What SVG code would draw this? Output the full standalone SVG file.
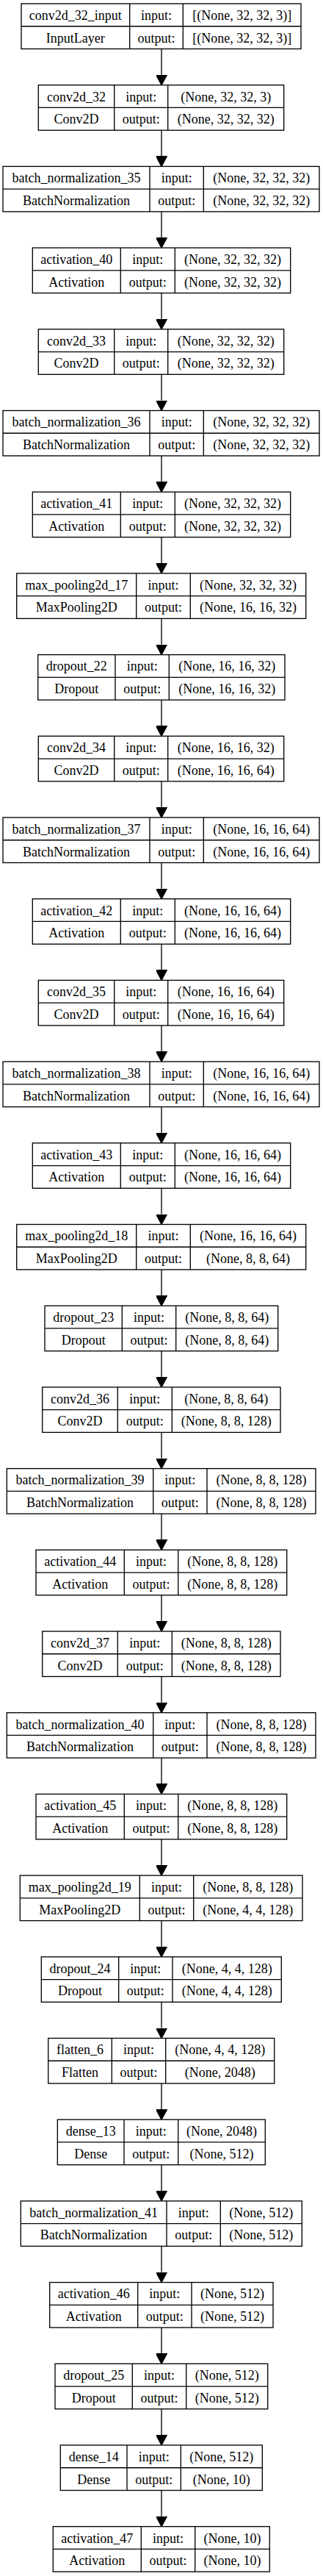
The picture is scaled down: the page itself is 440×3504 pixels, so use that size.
<svg xmlns="http://www.w3.org/2000/svg" width="440" height="3504" viewBox="0 0 440 3504">
<style>
.b{fill:none;stroke:#000;stroke-width:1.33}
.t{font-family:"Liberation Serif","Times New Roman",serif;font-size:18px;text-anchor:middle;fill:#000}
.e{fill:none;stroke:#000;stroke-width:1.33}
</style>
<defs>
<marker id="ah" markerUnits="userSpaceOnUse" viewBox="0 0 14 15" refX="0" refY="7.5" markerWidth="14" markerHeight="15" orient="auto">
<path d="M0,0 L14,7.5 L0,15 z" fill="#000" stroke="#000" stroke-width="1.33"/>
</marker>
</defs>
<rect width="440" height="3504" fill="#fff"/>
<g id="connectors">
<path class="e" marker-end="url(#ah)" d="M220,66.5V101.7"/>
<path class="e" marker-end="url(#ah)" d="M220,177.2V212.4"/>
<path class="e" marker-end="url(#ah)" d="M220,287.9V323.1"/>
<path class="e" marker-end="url(#ah)" d="M220,398.6V433.8"/>
<path class="e" marker-end="url(#ah)" d="M220,509.3V544.5"/>
<path class="e" marker-end="url(#ah)" d="M220,620V655.2"/>
<path class="e" marker-end="url(#ah)" d="M220,730.7V765.9"/>
<path class="e" marker-end="url(#ah)" d="M220,841.4V876.6"/>
<path class="e" marker-end="url(#ah)" d="M220,952.1V987.3"/>
<path class="e" marker-end="url(#ah)" d="M220,1062.8V1098"/>
<path class="e" marker-end="url(#ah)" d="M220,1173.5V1208.7"/>
<path class="e" marker-end="url(#ah)" d="M220,1284.2V1319.4"/>
<path class="e" marker-end="url(#ah)" d="M220,1394.9V1430.1"/>
<path class="e" marker-end="url(#ah)" d="M220,1505.6V1540.8"/>
<path class="e" marker-end="url(#ah)" d="M220,1616.3V1651.5"/>
<path class="e" marker-end="url(#ah)" d="M220,1727V1762.2"/>
<path class="e" marker-end="url(#ah)" d="M220,1837.7V1872.9"/>
<path class="e" marker-end="url(#ah)" d="M220,1948.4V1983.6"/>
<path class="e" marker-end="url(#ah)" d="M220,2059.1V2094.3"/>
<path class="e" marker-end="url(#ah)" d="M220,2169.8V2205"/>
<path class="e" marker-end="url(#ah)" d="M220,2280.5V2315.7"/>
<path class="e" marker-end="url(#ah)" d="M220,2391.2V2426.4"/>
<path class="e" marker-end="url(#ah)" d="M220,2501.9V2537.1"/>
<path class="e" marker-end="url(#ah)" d="M220,2612.6V2647.8"/>
<path class="e" marker-end="url(#ah)" d="M220,2723.3V2758.5"/>
<path class="e" marker-end="url(#ah)" d="M220,2834V2869.2"/>
<path class="e" marker-end="url(#ah)" d="M220,2944.7V2979.9"/>
<path class="e" marker-end="url(#ah)" d="M220,3055.4V3090.6"/>
<path class="e" marker-end="url(#ah)" d="M220,3166.1V3201.3"/>
<path class="e" marker-end="url(#ah)" d="M220,3276.8V3312"/>
<path class="e" marker-end="url(#ah)" d="M220,3387.5V3422.7"/>
</g>

<g id="conv2d_32_input" transform="translate(0,5)">
<rect class="b" x="29" y="0" width="381" height="61.5"/>
<path class="b" d="M29,30.75H410M176.7,0V61.5M249.3,0V61.5"/>
<text class="t" x="102.85" y="21.9">conv2d_32_input</text><text class="t" x="213" y="21.9">input:</text><text class="t" x="329.65" y="21.9">[(None, 32, 32, 3)]</text>
<text class="t" x="102.85" y="52.6">InputLayer</text><text class="t" x="213" y="52.6">output:</text><text class="t" x="329.65" y="52.6">[(None, 32, 32, 3)]</text>
</g>

<g id="conv2d_32" transform="translate(0,115.7)">
<rect class="b" x="52.3" y="0" width="334.4" height="61.5"/>
<path class="b" d="M52.3,30.75H386.7M155.7,0V61.5M228.7,0V61.5"/>
<text class="t" x="104" y="21.9">conv2d_32</text><text class="t" x="192.2" y="21.9">input:</text><text class="t" x="307.7" y="21.9">(None, 32, 32, 3)</text>
<text class="t" x="104" y="52.6">Conv2D</text><text class="t" x="192.2" y="52.6">output:</text><text class="t" x="307.7" y="52.6">(None, 32, 32, 32)</text>
</g>

<g id="batch_normalization_35" transform="translate(0,226.4)">
<rect class="b" x="4" y="0" width="431" height="61.5"/>
<path class="b" d="M4,30.75H435M204,0V61.5M277.3,0V61.5"/>
<text class="t" x="104" y="21.9">batch_normalization_35</text><text class="t" x="240.65" y="21.9">input:</text><text class="t" x="356.15" y="21.9">(None, 32, 32, 32)</text>
<text class="t" x="104" y="52.6">BatchNormalization</text><text class="t" x="240.65" y="52.6">output:</text><text class="t" x="356.15" y="52.6">(None, 32, 32, 32)</text>
</g>

<g id="activation_40" transform="translate(0,337.1)">
<rect class="b" x="44.3" y="0" width="351.4" height="61.5"/>
<path class="b" d="M44.3,30.75H395.7M164.3,0V61.5M238.3,0V61.5"/>
<text class="t" x="104.3" y="21.9">activation_40</text><text class="t" x="201.3" y="21.9">input:</text><text class="t" x="317" y="21.9">(None, 32, 32, 32)</text>
<text class="t" x="104.3" y="52.6">Activation</text><text class="t" x="201.3" y="52.6">output:</text><text class="t" x="317" y="52.6">(None, 32, 32, 32)</text>
</g>

<g id="conv2d_33" transform="translate(0,447.8)">
<rect class="b" x="52.3" y="0" width="334.4" height="61.5"/>
<path class="b" d="M52.3,30.75H386.7M155.7,0V61.5M228.7,0V61.5"/>
<text class="t" x="104" y="21.9">conv2d_33</text><text class="t" x="192.2" y="21.9">input:</text><text class="t" x="307.7" y="21.9">(None, 32, 32, 32)</text>
<text class="t" x="104" y="52.6">Conv2D</text><text class="t" x="192.2" y="52.6">output:</text><text class="t" x="307.7" y="52.6">(None, 32, 32, 32)</text>
</g>

<g id="batch_normalization_36" transform="translate(0,558.5)">
<rect class="b" x="4" y="0" width="431" height="61.5"/>
<path class="b" d="M4,30.75H435M204,0V61.5M277.3,0V61.5"/>
<text class="t" x="104" y="21.9">batch_normalization_36</text><text class="t" x="240.65" y="21.9">input:</text><text class="t" x="356.15" y="21.9">(None, 32, 32, 32)</text>
<text class="t" x="104" y="52.6">BatchNormalization</text><text class="t" x="240.65" y="52.6">output:</text><text class="t" x="356.15" y="52.6">(None, 32, 32, 32)</text>
</g>

<g id="activation_41" transform="translate(0,669.2)">
<rect class="b" x="44.3" y="0" width="351.4" height="61.5"/>
<path class="b" d="M44.3,30.75H395.7M164.3,0V61.5M238.3,0V61.5"/>
<text class="t" x="104.3" y="21.9">activation_41</text><text class="t" x="201.3" y="21.9">input:</text><text class="t" x="317" y="21.9">(None, 32, 32, 32)</text>
<text class="t" x="104.3" y="52.6">Activation</text><text class="t" x="201.3" y="52.6">output:</text><text class="t" x="317" y="52.6">(None, 32, 32, 32)</text>
</g>

<g id="max_pooling2d_17" transform="translate(0,779.9)">
<rect class="b" x="22.7" y="0" width="394" height="61.5"/>
<path class="b" d="M22.7,30.75H416.7M185.7,0V61.5M259.3,0V61.5"/>
<text class="t" x="104.2" y="21.9">max_pooling2d_17</text><text class="t" x="222.5" y="21.9">input:</text><text class="t" x="338" y="21.9">(None, 32, 32, 32)</text>
<text class="t" x="104.2" y="52.6">MaxPooling2D</text><text class="t" x="222.5" y="52.6">output:</text><text class="t" x="338" y="52.6">(None, 16, 16, 32)</text>
</g>

<g id="dropout_22" transform="translate(0,890.6)">
<rect class="b" x="51.7" y="0" width="336.3" height="61.5"/>
<path class="b" d="M51.7,30.75H388M157,0V61.5M230.3,0V61.5"/>
<text class="t" x="104.35" y="21.9">dropout_22</text><text class="t" x="193.65" y="21.9">input:</text><text class="t" x="309.15" y="21.9">(None, 16, 16, 32)</text>
<text class="t" x="104.35" y="52.6">Dropout</text><text class="t" x="193.65" y="52.6">output:</text><text class="t" x="309.15" y="52.6">(None, 16, 16, 32)</text>
</g>

<g id="conv2d_34" transform="translate(0,1001.3)">
<rect class="b" x="52.3" y="0" width="334.4" height="61.5"/>
<path class="b" d="M52.3,30.75H386.7M155.7,0V61.5M228.7,0V61.5"/>
<text class="t" x="104" y="21.9">conv2d_34</text><text class="t" x="192.2" y="21.9">input:</text><text class="t" x="307.7" y="21.9">(None, 16, 16, 32)</text>
<text class="t" x="104" y="52.6">Conv2D</text><text class="t" x="192.2" y="52.6">output:</text><text class="t" x="307.7" y="52.6">(None, 16, 16, 64)</text>
</g>

<g id="batch_normalization_37" transform="translate(0,1112)">
<rect class="b" x="4" y="0" width="431" height="61.5"/>
<path class="b" d="M4,30.75H435M204,0V61.5M277.3,0V61.5"/>
<text class="t" x="104" y="21.9">batch_normalization_37</text><text class="t" x="240.65" y="21.9">input:</text><text class="t" x="356.15" y="21.9">(None, 16, 16, 64)</text>
<text class="t" x="104" y="52.6">BatchNormalization</text><text class="t" x="240.65" y="52.6">output:</text><text class="t" x="356.15" y="52.6">(None, 16, 16, 64)</text>
</g>

<g id="activation_42" transform="translate(0,1222.7)">
<rect class="b" x="44.3" y="0" width="351.4" height="61.5"/>
<path class="b" d="M44.3,30.75H395.7M164.3,0V61.5M238.3,0V61.5"/>
<text class="t" x="104.3" y="21.9">activation_42</text><text class="t" x="201.3" y="21.9">input:</text><text class="t" x="317" y="21.9">(None, 16, 16, 64)</text>
<text class="t" x="104.3" y="52.6">Activation</text><text class="t" x="201.3" y="52.6">output:</text><text class="t" x="317" y="52.6">(None, 16, 16, 64)</text>
</g>

<g id="conv2d_35" transform="translate(0,1333.4)">
<rect class="b" x="52.3" y="0" width="334.4" height="61.5"/>
<path class="b" d="M52.3,30.75H386.7M155.7,0V61.5M228.7,0V61.5"/>
<text class="t" x="104" y="21.9">conv2d_35</text><text class="t" x="192.2" y="21.9">input:</text><text class="t" x="307.7" y="21.9">(None, 16, 16, 64)</text>
<text class="t" x="104" y="52.6">Conv2D</text><text class="t" x="192.2" y="52.6">output:</text><text class="t" x="307.7" y="52.6">(None, 16, 16, 64)</text>
</g>

<g id="batch_normalization_38" transform="translate(0,1444.1)">
<rect class="b" x="4" y="0" width="431" height="61.5"/>
<path class="b" d="M4,30.75H435M204,0V61.5M277.3,0V61.5"/>
<text class="t" x="104" y="21.9">batch_normalization_38</text><text class="t" x="240.65" y="21.9">input:</text><text class="t" x="356.15" y="21.9">(None, 16, 16, 64)</text>
<text class="t" x="104" y="52.6">BatchNormalization</text><text class="t" x="240.65" y="52.6">output:</text><text class="t" x="356.15" y="52.6">(None, 16, 16, 64)</text>
</g>

<g id="activation_43" transform="translate(0,1554.8)">
<rect class="b" x="44.3" y="0" width="351.4" height="61.5"/>
<path class="b" d="M44.3,30.75H395.7M164.3,0V61.5M238.3,0V61.5"/>
<text class="t" x="104.3" y="21.9">activation_43</text><text class="t" x="201.3" y="21.9">input:</text><text class="t" x="317" y="21.9">(None, 16, 16, 64)</text>
<text class="t" x="104.3" y="52.6">Activation</text><text class="t" x="201.3" y="52.6">output:</text><text class="t" x="317" y="52.6">(None, 16, 16, 64)</text>
</g>

<g id="max_pooling2d_18" transform="translate(0,1665.5)">
<rect class="b" x="22.7" y="0" width="394" height="61.5"/>
<path class="b" d="M22.7,30.75H416.7M185.7,0V61.5M259.3,0V61.5"/>
<text class="t" x="104.2" y="21.9">max_pooling2d_18</text><text class="t" x="222.5" y="21.9">input:</text><text class="t" x="338" y="21.9">(None, 16, 16, 64)</text>
<text class="t" x="104.2" y="52.6">MaxPooling2D</text><text class="t" x="222.5" y="52.6">output:</text><text class="t" x="338" y="52.6">(None, 8, 8, 64)</text>
</g>

<g id="dropout_23" transform="translate(0,1776.2)">
<rect class="b" x="61" y="0" width="317.7" height="61.5"/>
<path class="b" d="M61,30.75H378.7M166.3,0V61.5M239.7,0V61.5"/>
<text class="t" x="113.65" y="21.9">dropout_23</text><text class="t" x="203" y="21.9">input:</text><text class="t" x="309.2" y="21.9">(None, 8, 8, 64)</text>
<text class="t" x="113.65" y="52.6">Dropout</text><text class="t" x="203" y="52.6">output:</text><text class="t" x="309.2" y="52.6">(None, 8, 8, 64)</text>
</g>

<g id="conv2d_36" transform="translate(0,1886.9)">
<rect class="b" x="57.7" y="0" width="324.3" height="61.5"/>
<path class="b" d="M57.7,30.75H382M160.3,0V61.5M234.3,0V61.5"/>
<text class="t" x="109" y="21.9">conv2d_36</text><text class="t" x="197.3" y="21.9">input:</text><text class="t" x="308.15" y="21.9">(None, 8, 8, 64)</text>
<text class="t" x="109" y="52.6">Conv2D</text><text class="t" x="197.3" y="52.6">output:</text><text class="t" x="308.15" y="52.6">(None, 8, 8, 128)</text>
</g>

<g id="batch_normalization_39" transform="translate(0,1997.6)">
<rect class="b" x="9.3" y="0" width="420.7" height="61.5"/>
<path class="b" d="M9.3,30.75H430M208.7,0V61.5M282,0V61.5"/>
<text class="t" x="109" y="21.9">batch_normalization_39</text><text class="t" x="245.35" y="21.9">input:</text><text class="t" x="356" y="21.9">(None, 8, 8, 128)</text>
<text class="t" x="109" y="52.6">BatchNormalization</text><text class="t" x="245.35" y="52.6">output:</text><text class="t" x="356" y="52.6">(None, 8, 8, 128)</text>
</g>

<g id="activation_44" transform="translate(0,2108.3)">
<rect class="b" x="49" y="0" width="341.7" height="61.5"/>
<path class="b" d="M49,30.75H390.7M169.3,0V61.5M242.7,0V61.5"/>
<text class="t" x="109.15" y="21.9">activation_44</text><text class="t" x="206" y="21.9">input:</text><text class="t" x="316.7" y="21.9">(None, 8, 8, 128)</text>
<text class="t" x="109.15" y="52.6">Activation</text><text class="t" x="206" y="52.6">output:</text><text class="t" x="316.7" y="52.6">(None, 8, 8, 128)</text>
</g>

<g id="conv2d_37" transform="translate(0,2219)">
<rect class="b" x="57.7" y="0" width="324.3" height="61.5"/>
<path class="b" d="M57.7,30.75H382M160.3,0V61.5M234.3,0V61.5"/>
<text class="t" x="109" y="21.9">conv2d_37</text><text class="t" x="197.3" y="21.9">input:</text><text class="t" x="308.15" y="21.9">(None, 8, 8, 128)</text>
<text class="t" x="109" y="52.6">Conv2D</text><text class="t" x="197.3" y="52.6">output:</text><text class="t" x="308.15" y="52.6">(None, 8, 8, 128)</text>
</g>

<g id="batch_normalization_40" transform="translate(0,2329.7)">
<rect class="b" x="9.3" y="0" width="420.7" height="61.5"/>
<path class="b" d="M9.3,30.75H430M208.7,0V61.5M282,0V61.5"/>
<text class="t" x="109" y="21.9">batch_normalization_40</text><text class="t" x="245.35" y="21.9">input:</text><text class="t" x="356" y="21.9">(None, 8, 8, 128)</text>
<text class="t" x="109" y="52.6">BatchNormalization</text><text class="t" x="245.35" y="52.6">output:</text><text class="t" x="356" y="52.6">(None, 8, 8, 128)</text>
</g>

<g id="activation_45" transform="translate(0,2440.4)">
<rect class="b" x="49" y="0" width="341.7" height="61.5"/>
<path class="b" d="M49,30.75H390.7M169.3,0V61.5M242.7,0V61.5"/>
<text class="t" x="109.15" y="21.9">activation_45</text><text class="t" x="206" y="21.9">input:</text><text class="t" x="316.7" y="21.9">(None, 8, 8, 128)</text>
<text class="t" x="109.15" y="52.6">Activation</text><text class="t" x="206" y="52.6">output:</text><text class="t" x="316.7" y="52.6">(None, 8, 8, 128)</text>
</g>

<g id="max_pooling2d_19" transform="translate(0,2551.1)">
<rect class="b" x="27.3" y="0" width="384.7" height="61.5"/>
<path class="b" d="M27.3,30.75H412M190.3,0V61.5M263.7,0V61.5"/>
<text class="t" x="108.8" y="21.9">max_pooling2d_19</text><text class="t" x="227" y="21.9">input:</text><text class="t" x="337.85" y="21.9">(None, 8, 8, 128)</text>
<text class="t" x="108.8" y="52.6">MaxPooling2D</text><text class="t" x="227" y="52.6">output:</text><text class="t" x="337.85" y="52.6">(None, 4, 4, 128)</text>
</g>

<g id="dropout_24" transform="translate(0,2661.8)">
<rect class="b" x="56.3" y="0" width="327" height="61.5"/>
<path class="b" d="M56.3,30.75H383.3M161.7,0V61.5M235,0V61.5"/>
<text class="t" x="109" y="21.9">dropout_24</text><text class="t" x="198.35" y="21.9">input:</text><text class="t" x="309.15" y="21.9">(None, 4, 4, 128)</text>
<text class="t" x="109" y="52.6">Dropout</text><text class="t" x="198.35" y="52.6">output:</text><text class="t" x="309.15" y="52.6">(None, 4, 4, 128)</text>
</g>

<g id="flatten_6" transform="translate(0,2772.5)">
<rect class="b" x="65.7" y="0" width="308" height="61.5"/>
<path class="b" d="M65.7,30.75H373.7M152.3,0V61.5M225.7,0V61.5"/>
<text class="t" x="109" y="21.9">flatten_6</text><text class="t" x="189" y="21.9">input:</text><text class="t" x="299.7" y="21.9">(None, 4, 4, 128)</text>
<text class="t" x="109" y="52.6">Flatten</text><text class="t" x="189" y="52.6">output:</text><text class="t" x="299.7" y="52.6">(None, 2048)</text>
</g>

<g id="dense_13" transform="translate(0,2883.2)">
<rect class="b" x="78.3" y="0" width="283" height="61.5"/>
<path class="b" d="M78.3,30.75H361.3M169,0V61.5M242.7,0V61.5"/>
<text class="t" x="123.65" y="21.9">dense_13</text><text class="t" x="205.85" y="21.9">input:</text><text class="t" x="302" y="21.9">(None, 2048)</text>
<text class="t" x="123.65" y="52.6">Dense</text><text class="t" x="205.85" y="52.6">output:</text><text class="t" x="302" y="52.6">(None, 512)</text>
</g>

<g id="batch_normalization_41" transform="translate(0,2993.9)">
<rect class="b" x="28.3" y="0" width="383" height="61.5"/>
<path class="b" d="M28.3,30.75H411.3M227,0V61.5M300.3,0V61.5"/>
<text class="t" x="127.65" y="21.9">batch_normalization_41</text><text class="t" x="263.65" y="21.9">input:</text><text class="t" x="355.8" y="21.9">(None, 512)</text>
<text class="t" x="127.65" y="52.6">BatchNormalization</text><text class="t" x="263.65" y="52.6">output:</text><text class="t" x="355.8" y="52.6">(None, 512)</text>
</g>

<g id="activation_46" transform="translate(0,3104.6)">
<rect class="b" x="67.7" y="0" width="304.3" height="61.5"/>
<path class="b" d="M67.7,30.75H372M187.7,0V61.5M261,0V61.5"/>
<text class="t" x="127.7" y="21.9">activation_46</text><text class="t" x="224.35" y="21.9">input:</text><text class="t" x="316.5" y="21.9">(None, 512)</text>
<text class="t" x="127.7" y="52.6">Activation</text><text class="t" x="224.35" y="52.6">output:</text><text class="t" x="316.5" y="52.6">(None, 512)</text>
</g>

<g id="dropout_25" transform="translate(0,3215.3)">
<rect class="b" x="75" y="0" width="289.7" height="61.5"/>
<path class="b" d="M75,30.75H364.7M180.3,0V61.5M253.7,0V61.5"/>
<text class="t" x="127.65" y="21.9">dropout_25</text><text class="t" x="217" y="21.9">input:</text><text class="t" x="309.2" y="21.9">(None, 512)</text>
<text class="t" x="127.65" y="52.6">Dropout</text><text class="t" x="217" y="52.6">output:</text><text class="t" x="309.2" y="52.6">(None, 512)</text>
</g>

<g id="dense_14" transform="translate(0,3326)">
<rect class="b" x="82.3" y="0" width="275" height="61.5"/>
<path class="b" d="M82.3,30.75H357.3M173,0V61.5M246.3,0V61.5"/>
<text class="t" x="127.65" y="21.9">dense_14</text><text class="t" x="209.65" y="21.9">input:</text><text class="t" x="301.8" y="21.9">(None, 512)</text>
<text class="t" x="127.65" y="52.6">Dense</text><text class="t" x="209.65" y="52.6">output:</text><text class="t" x="301.8" y="52.6">(None, 10)</text>
</g>

<g id="activation_47" transform="translate(0,3436.7)">
<rect class="b" x="72.3" y="0" width="295" height="61.5"/>
<path class="b" d="M72.3,30.75H367.3M192.3,0V61.5M265.7,0V61.5"/>
<text class="t" x="132.3" y="21.9">activation_47</text><text class="t" x="229" y="21.9">input:</text><text class="t" x="316.5" y="21.9">(None, 10)</text>
<text class="t" x="132.3" y="52.6">Activation</text><text class="t" x="229" y="52.6">output:</text><text class="t" x="316.5" y="52.6">(None, 10)</text>
</g>
</svg>
